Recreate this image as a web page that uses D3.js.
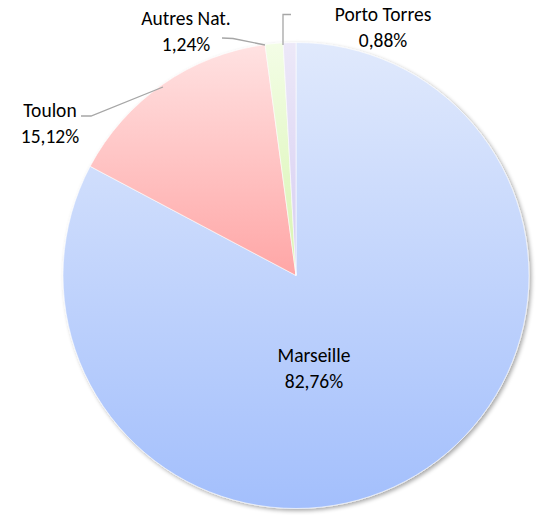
<!DOCTYPE html>
<html><head><meta charset="utf-8">
<script src="https://cdn.jsdelivr.net/npm/d3@7/dist/d3.min.js"></script>
<style>body{margin:0;background:#fff}svg{display:block}</style>
</head><body>
<svg id="c" width="541" height="517"></svg>
<script>
const categories = ["Marseille", "Toulon", "Autres Nat.", "Porto Torres"];
const values = [82.76, 15.12, 1.24, 0.88];
const valueLabels = ["82,76%", "15,12%", "1,24%", "0,88%"];
const colorsTop = ["#e0e9fc", "#ffe2e2", "#f3fde6", "#ece8f8"];
const colorsBottom = ["#a3bffc", "#ffa6a6", "#d8f4b0", "#d6cdf2"];

const svg = d3.select("#c");
const cx = 296, cy = 275.5, r = 233;
const defs = svg.append("defs");
categories.forEach((c, i) => {
  const g = defs.append("linearGradient").attr("id", "g" + i)
    .attr("x1", 0).attr("y1", 0).attr("x2", 0).attr("y2", 1);
  g.append("stop").attr("offset", "0%").attr("stop-color", colorsTop[i]);
  g.append("stop").attr("offset", "100%").attr("stop-color", colorsBottom[i]);
});
const f = defs.append("filter").attr("id", "sh").attr("x", "-10%").attr("y", "-10%").attr("width", "120%").attr("height", "120%");
f.append("feGaussianBlur").attr("in", "SourceAlpha").attr("stdDeviation", 2);
f.append("feOffset").attr("dx", 1.5).attr("dy", 1.5).attr("result", "b");
f.append("feComponentTransfer").append("feFuncA").attr("type", "linear").attr("slope", 0.35);
const m = f.append("feMerge"); m.append("feMergeNode"); m.append("feMergeNode").attr("in", "SourceGraphic");

const pie = d3.pie().sort(null).value(d => d);
const arcs = pie(values);
const arc = d3.arc().innerRadius(0).outerRadius(r);
const g = svg.append("g").attr("transform", `translate(${cx},${cy})`).attr("filter", "url(#sh)");
g.selectAll("path").data(arcs).join("path")
  .attr("d", arc)
  .attr("fill", (d, i) => `url(#g${i})`)
  .attr("stroke", "#ffffff").attr("stroke-width", 0.6);

// leader lines
const lines = [
  null,
  [[81, 116], [91, 116], [163, 87]],
  [[222, 38], [233, 38.5], [265, 45]],
  [[283, 45], [283, 14.5], [291, 14.5]]
];
svg.append("g").selectAll("path").data(lines.filter(l => l)).join("path")
  .attr("d", d => d3.line()(d))
  .attr("fill", "none").attr("stroke", "#a6a6a6").attr("stroke-width", 1.3);

// labels
const labelPos = [[314, 362], [50, 117], [186, 25], [383, 21]];
const font = "Carlito, Calibri, 'Open Sans', 'Liberation Sans', sans-serif";
const lg = svg.append("g").attr("font-family", font).attr("font-size", 19.5).attr("fill", "#000");
categories.forEach((c, i) => {
  const t = lg.append("text").attr("text-anchor", "middle")
    .attr("x", labelPos[i][0]).attr("y", labelPos[i][1]);
  t.append("tspan").attr("x", labelPos[i][0]).text(c);
  t.append("tspan").attr("x", labelPos[i][0]).attr("dy", 25.5).text(valueLabels[i]);
});
</script>
</body></html>
